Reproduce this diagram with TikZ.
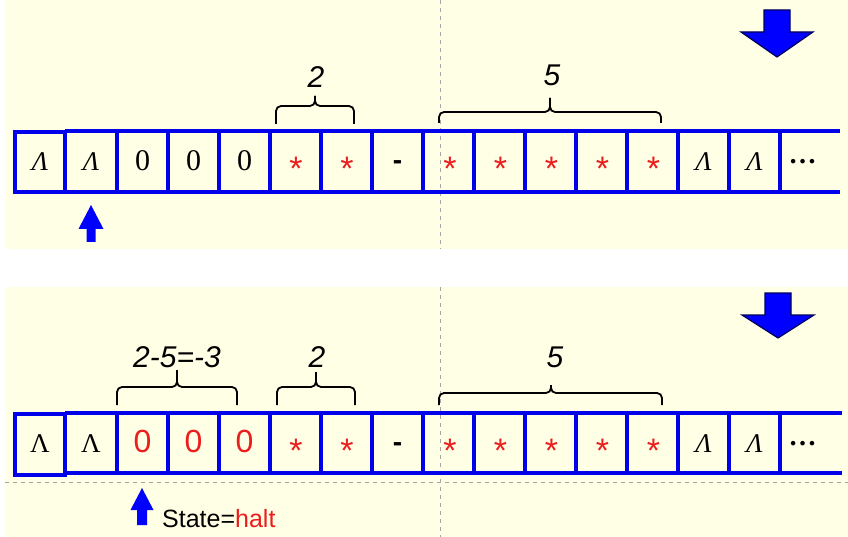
\documentclass[tikz,border=0pt]{standalone}
\usepackage{fontspec}
\setmainfont{Liberation Serif}
\newfontfamily\arial{Liberation Sans}
\definecolor{cream}{RGB}{255,255,230}
\definecolor{tapeblue}{RGB}{0,0,235}
\definecolor{navy}{RGB}{0,0,90}
\definecolor{starred}{RGB}{235,30,30}
\tikzset{
  panel/.style={fill=cream, draw=none},
  tapeline/.style={draw=tapeblue, line width=4pt},
  celltext/.style={anchor=base, inner sep=0pt, font=\fontsize{27}{30}\selectfont},
  digittext/.style={anchor=base, inner sep=0pt, font=\fontsize{30}{32}\selectfont},
  redtext/.style={anchor=base, inner sep=0pt, text=starred, font=\arial\fontsize{32}{34}\selectfont},
  startext/.style={anchor=base, inner sep=0pt, text=starred, font=\arial\fontsize{34}{36}\selectfont},
  dashtext/.style={anchor=base, inner sep=0pt, font=\arial\bfseries\fontsize{28}{30}\selectfont},
  dotstext/.style={anchor=base, inner sep=0pt, font=\bfseries\fontsize{28}{30}\selectfont},
  bracelabel/.style={anchor=base, inner sep=0pt, font=\arial\itshape\fontsize{30}{32}\selectfont},
  bracepath/.style={draw=black, line width=1.8pt, rounded corners=5pt},
  bigarrow/.style={fill=blue, draw=navy, line width=1.2pt, line join=miter},
  smallarrow/.style={fill=blue, draw=none},
  guide/.style={draw=gray!70, dash pattern=on 4pt off 4pt, line width=0.8pt},
}
\newcommand{\tmbrace}[6]{%
  \draw[bracepath] (#1,#4) -- (#1,#5) -- (#3,#5) -- (#3,#6);
  \draw[bracepath] (#2,#4) -- (#2,#5) -- (#3,#5) -- (#3,#6);}
\begin{document}
\begin{tikzpicture}[x=1pt,y=-1pt]
\useasboundingbox (0,0) rectangle (848,537);
% panels
\fill[panel] (5,0) rectangle (848,249);
\fill[panel] (5,287) rectangle (848,537);
\draw[guide] (440,0) -- (440,249);
\draw[guide] (440,287) -- (440,537);
\draw[guide] (5,482) -- (848,482);

% ---------- top tape ----------
\draw[tapeline] (15,132) rectangle (65,192);
\draw[tapeline] (65,131) -- (840,131);
\draw[tapeline] (65,192) -- (840,192);
\foreach \x in {117,168,219,270,321,372,423,474,525,576,627,678,729,780}
  \draw[tapeline] (\x,131) -- (\x,192);

\node[celltext] (t1) at (40,171) {\itshape Λ};
\node[celltext] (t2) at (91,171) {\itshape Λ};
\node[digittext] (t3) at (142.5,171) {0};
\node[digittext] (t4) at (193.5,171) {0};
\node[digittext] (t5) at (244.5,171) {0};
\node[startext] (t6) at (296,181) {*};
\node[startext] (t7) at (347,181) {*};
\node[dashtext] (t8) at (397.5,170) {-};
\node[startext] (t9) at (450,181) {*};
\node[startext] (t10) at (500.5,181) {*};
\node[startext] (t11) at (551.5,181) {*};
\node[startext] (t12) at (602.5,181) {*};
\node[startext] (t13) at (653.5,181) {*};
\node[celltext] (t14) at (703.5,171) {\itshape Λ};
\node[celltext] (t15) at (754.5,171) {\itshape Λ};
\node[dotstext] (t16) at (802.5,164) {…};

\tmbrace{276}{354}{315}{124}{106}{96}
\node[bracelabel] (ltwo) at (316,88) {2};
\tmbrace{439}{661}{550}{123}{112}{98}
\node[bracelabel] (lfive) at (552,86) {5};

\draw[bigarrow] (764,10) -- (790,10) -- (790,32) -- (813,32) -- (777,57) -- (741,32) -- (764,32) -- cycle;
\fill[smallarrow] (86.5,242) -- (95.5,242) -- (95.5,229) -- (103.5,229) -- (91,205) -- (78.5,229) -- (86.5,229) -- cycle;

% ---------- bottom tape ----------
\draw[tapeline] (15,414) rectangle (65,475);
\draw[tapeline] (65,413) -- (842,413);
\draw[tapeline] (65,473) -- (842,473);
\foreach \x in {117,168,219,270,321,372,423,474,525,576,627,678,729,780}
  \draw[tapeline] (\x,413) -- (\x,473);

\node[celltext] (b1) at (40,452) {Λ};
\node[celltext] (b2) at (91,452) {Λ};
\node[redtext] (b3) at (142.5,452) {0};
\node[redtext] (b4) at (193.5,452) {0};
\node[redtext] (b5) at (244.5,452) {0};
\node[startext] (b6) at (296,462) {*};
\node[startext] (b7) at (347,462) {*};
\node[dashtext] (b8) at (397.5,451) {-};
\node[startext] (b9) at (450,462) {*};
\node[startext] (b10) at (500.5,462) {*};
\node[startext] (b11) at (551.5,462) {*};
\node[startext] (b12) at (602.5,462) {*};
\node[startext] (b13) at (653.5,462) {*};
\node[celltext] (b14) at (703.5,452) {\itshape Λ};
\node[celltext] (b15) at (754.5,452) {\itshape Λ};
\node[dotstext] (b16) at (802.5,445) {…};

\tmbrace{117}{237}{177}{405}{387}{370}
\node[bracelabel] (ldiff) at (177,367) {2-5=-3};
\tmbrace{277}{355}{316}{405}{387}{372}
\node[bracelabel] (ltwob) at (317,367) {2};
\tmbrace{439}{662}{551}{405}{393}{385}
\node[bracelabel] (lfiveb) at (555,367) {5};

\draw[bigarrow] (765,293) -- (791,293) -- (791,315) -- (814,315) -- (778,338) -- (742,315) -- (765,315) -- cycle;
\fill[smallarrow] (137,525) -- (147,525) -- (147,510) -- (153.5,510) -- (142,488) -- (130.5,510) -- (137,510) -- cycle;
\node[anchor=base west, inner sep=0pt, font=\arial\fontsize{25}{28}\selectfont] (state) at (162,527) {State=\textcolor{starred}{halt}};
\end{tikzpicture}
\end{document}
